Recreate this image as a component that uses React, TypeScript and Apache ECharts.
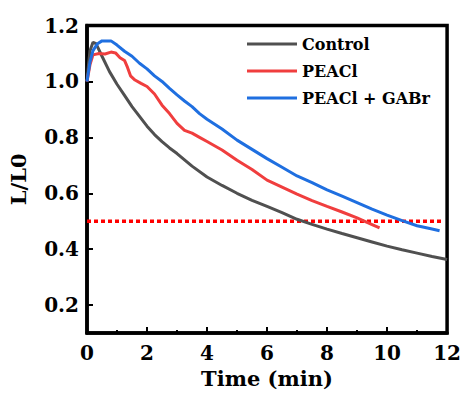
import React, { useEffect, useRef } from "react";
import * as echarts from "echarts";

const seriesNames = ["Control", "PEACl", "PEACl + GABr"];

const controlX = [0, 0.05, 0.1, 0.2, 0.3, 0.5, 0.75, 1.0, 1.25, 1.5, 1.75, 2.0, 2.25, 2.5, 2.75, 3.0, 3.5, 4.0, 4.5, 5.0, 5.5, 6.0, 6.5, 7.0, 7.5, 8.0, 8.5, 9.0, 9.5, 10.0, 10.5, 11.0, 11.5, 12.0];
const controlY = [1.0, 1.06, 1.11, 1.14, 1.135, 1.09, 1.035, 0.99, 0.95, 0.91, 0.875, 0.84, 0.81, 0.785, 0.762, 0.742, 0.697, 0.658, 0.628, 0.6, 0.575, 0.553, 0.531, 0.507, 0.489, 0.472, 0.456, 0.441, 0.426, 0.411, 0.398, 0.386, 0.374, 0.363];

const peaclX = [0, 0.1, 0.2, 0.4, 0.6, 0.8, 0.95, 1.1, 1.25, 1.35, 1.45, 1.6, 1.8, 2.0, 2.25, 2.5, 2.75, 3.0, 3.25, 3.5, 3.75, 4.0, 4.5, 5.0, 5.5, 6.0, 6.5, 7.0, 7.5, 8.0, 8.5, 9.0, 9.5, 9.75];
const peaclY = [1.0, 1.06, 1.095, 1.1, 1.098, 1.105, 1.102, 1.085, 1.075, 1.05, 1.02, 1.005, 0.993, 0.982, 0.955, 0.915, 0.885, 0.85, 0.825, 0.815, 0.8, 0.785, 0.755, 0.718, 0.685, 0.647, 0.622, 0.597, 0.574, 0.553, 0.533, 0.512, 0.488, 0.476];

const gabrX = [0, 0.1, 0.2, 0.35, 0.5, 0.8, 1.0, 1.25, 1.5, 1.75, 2.0, 2.25, 2.5, 2.75, 3.0, 3.25, 3.5, 3.75, 4.0, 4.5, 5.0, 5.5, 6.0, 6.5, 7.0, 7.5, 8.0, 8.5, 9.0, 9.5, 10.0, 10.5, 11.0, 11.5, 11.75];
const gabrY = [1.0, 1.07, 1.11, 1.135, 1.145, 1.145, 1.13, 1.108, 1.09, 1.065, 1.045, 1.02, 1.0, 0.975, 0.952, 0.93, 0.91, 0.885, 0.865, 0.83, 0.79, 0.757, 0.724, 0.693, 0.662, 0.638, 0.612, 0.59, 0.567, 0.543, 0.522, 0.502, 0.484, 0.472, 0.466];

const thresholdX = [0, 11.85];
const thresholdY = [0.5, 0.5];

const yTicks = [0.2, 0.4, 0.6, 0.8, 1.0, 1.2];

const colors = ["#505050", "#f03e3e", "#1f6fe0"];

const zip = (xs: number[], ys: number[]) => xs.map((x, i) => [x, ys[i]]);

const FONT = "DejaVu Serif";

export default function App() {
  const ref = useRef<HTMLDivElement>(null);
  useEffect(() => {
    if (!ref.current) return;
    const chart = echarts.init(ref.current, null, { renderer: "svg" });
    const lineSeries = [
      [controlX, controlY],
      [peaclX, peaclY],
      [gabrX, gabrY],
    ].map(([xs, ys], i) => ({
      name: seriesNames[i],
      type: "line",
      data: zip(xs, ys),
      showSymbol: false,
      symbol: "none",
      lineStyle: { color: colors[i], width: 3 },
      itemStyle: { color: colors[i] },
      z: 3,
    }));
    chart.setOption({
      animation: false,
      grid: {
        left: 86,
        top: 25.5,
        right: 16,
        bottom: 60,
        show: true,
        borderColor: "#000",
        borderWidth: 3.5,
      },
      legend: {
        data: seriesNames,
        orient: "vertical",
        left: 242,
        top: 31,
        itemWidth: 50,
        itemHeight: 3,
        itemGap: 11,
        icon: "rect",
        textStyle: { fontFamily: FONT, fontWeight: "bold", fontSize: 16, color: "#000" },
      },
      xAxis: {
        type: "value",
        min: 0,
        max: 12,
        interval: 2,
        name: "Time (min)",
        nameLocation: "middle",
        nameGap: 34,
        nameTextStyle: { fontFamily: FONT, fontWeight: "bold", fontSize: 21, color: "#000" },
        axisLine: { lineStyle: { color: "#000", width: 3.5 } },
        axisTick: { inside: true, length: 6, lineStyle: { color: "#000", width: 2 } },
        minorTick: { show: true, splitNumber: 2, length: 3, lineStyle: { color: "#000", width: 2 } },
        splitLine: { show: false },
        axisLabel: { fontFamily: FONT, fontWeight: "bold", fontSize: 20, color: "#000", margin: 10 },
      },
      yAxis: {
        type: "value",
        min: 0.1,
        max: 1.2,
        name: "L/L0",
        nameLocation: "middle",
        nameGap: 58,
        nameTextStyle: { fontFamily: FONT, fontWeight: "bold", fontSize: 21, color: "#000" },
        axisLine: { lineStyle: { color: "#000", width: 3.5 } },
        axisTick: { inside: true, length: 6, customValues: yTicks, lineStyle: { color: "#000", width: 2 } },
        splitLine: { show: false },
        axisLabel: {
          customValues: yTicks,
          fontFamily: FONT,
          fontWeight: "bold",
          fontSize: 20,
          color: "#000",
          margin: 8,
          formatter: (v: number) => v.toFixed(1),
        },
      },
      series: [
        ...lineSeries,
        {
          name: "threshold",
          type: "line",
          data: zip(thresholdX, thresholdY),
          showSymbol: false,
          symbol: "none",
          lineStyle: { color: "#ff0000", width: 3.5, type: [4, 3] },
          z: 2,
        },
      ],
    });
    return () => chart.dispose();
  }, []);
  return (
    <div
      ref={ref}
      style={{ position: "fixed", left: 0, top: 0, width: 464, height: 394, background: "#fff" }}
    />
  );
}
